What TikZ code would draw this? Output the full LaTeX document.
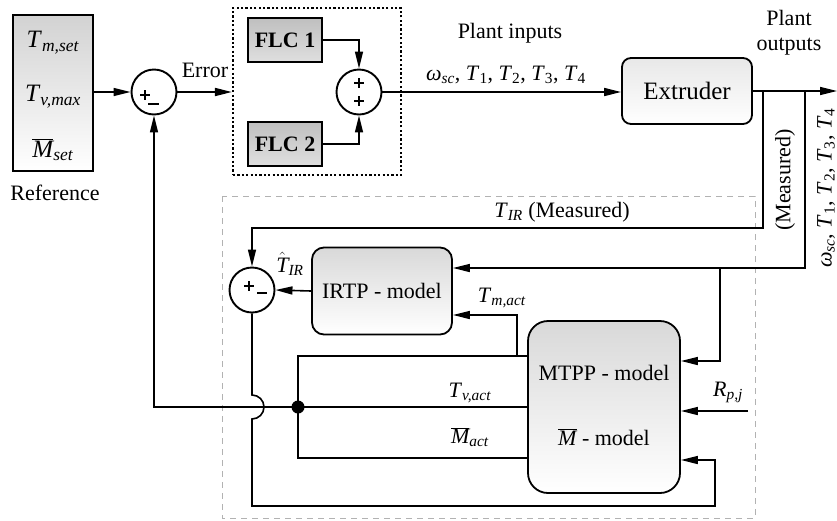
\documentclass[tikz,border=0pt]{standalone}
\usepackage{fontspec}
\setmainfont{Liberation Serif}
\usetikzlibrary{arrows.meta,calc}

% italic symbol with italic subscript
\newcommand\isub[2]{\textit{#1}\textsubscript{\textit{#2}}}
% italic symbol with upright subscript
\newcommand\nsub[2]{\textit{#1}\textsubscript{#2}}
\newcommand\barM{$\overline{\mbox{\itshape M}}$}
\newcommand\plantvars{\isub{ω}{sc}, \nsub{T}{1}, \nsub{T}{2}, \nsub{T}{3}, \nsub{T}{4}}

\begin{document}
\begin{tikzpicture}[x=1pt,y=-1pt,
  every node/.style={font=\fontsize{22}{26}\selectfont},
  wire/.style={line width=1.6pt},
  arr/.style={wire,-{Triangle[length=17pt,width=8pt]}},
  sumnode/.style={circle,draw,line width=1.9pt,minimum size=45pt,inner sep=0pt,fill=white},
  flcbox/.style={draw,line width=1.8pt,top color=gray!50,bottom color=gray!25,
    minimum width=74pt,minimum height=44pt,inner sep=0pt,font=\fontsize{22}{26}\selectfont\bfseries},
  modelbox/.style={draw,line width=1.8pt,rounded corners=12pt,top color=gray!30,bottom color=white,inner sep=0pt},
  sign/.style={line width=1.2pt}
]
\useasboundingbox (0,0) rectangle (837,520);

% reference values
\node[draw,line width=2.6pt,top color=gray!35,bottom color=white,
  minimum width=80pt,minimum height=156pt,inner sep=0pt] (ref) at (53,93) {};
\node[font=\fontsize{25}{28}\selectfont] (tmset) at (53,43) {\isub{T}{m,set}};
\node[font=\fontsize{25}{28}\selectfont] (tvmax) at (53,97) {\isub{T}{v,max}};
\node[font=\fontsize{25}{28}\selectfont] (mset) at (53,150) {\barM\textsubscript{\textit{set}}};
\node (reflbl) at (55,193) {Reference};

% first comparator
\node[sumnode] (sum1) at (154,92) {};
\draw[sign] ($(sum1)+(-14,3)$) -- ($(sum1)+(-4,3)$);
\draw[sign] ($(sum1)+(-9,-2)$) -- ($(sum1)+(-9,8)$);
\draw[sign] ($(sum1)+(-6,12)$) -- ($(sum1)+(5,12)$);

% fuzzy controllers
\node[draw,line width=2.2pt,dash pattern=on 2.2pt off 2.2pt,
  minimum width=168pt,minimum height=167pt,inner sep=0pt] (ctrl) at (317,91.5) {};
\node[flcbox] (flc1) at (285,40) {FLC 1};
\node[flcbox] (flc2) at (285,144) {FLC 2};
\node[sumnode] (sum2) at (359,92) {};
\draw[sign] ($(sum2)+(-5,-9)$) -- ($(sum2)+(5,-9)$);
\draw[sign] ($(sum2)+(0,-14)$) -- ($(sum2)+(0,-4)$);
\draw[sign] ($(sum2)+(-5,9)$) -- ($(sum2)+(5,9)$);
\draw[sign] ($(sum2)+(0,4)$) -- ($(sum2)+(0,14)$);

% plant
\node[draw,line width=1.8pt,rounded corners=9pt,top color=gray!18,bottom color=white,
  minimum width=130pt,minimum height=66pt,inner sep=0pt,
  font=\fontsize{25}{28}\selectfont] (ext) at (687,91) {Extruder};

% observer region
\draw[gray!60,line width=0.8pt,dash pattern=on 6pt off 5pt] (222,196) rectangle (755,518);
\node[modelbox,minimum width=140pt,minimum height=87pt] (irtp) at (382,291) {IRTP - model};
\node[sumnode] (sum3) at (252,290) {};
\draw[sign] ($(sum3)+(-8,-4)$) -- ($(sum3)+(2,-4)$);
\draw[sign] ($(sum3)+(-3,-9)$) -- ($(sum3)+(-3,1)$);
\draw[sign] ($(sum3)+(5,3)$) -- ($(sum3)+(15,3)$);
\node[modelbox,rounded corners=20pt,minimum width=152pt,minimum height=172pt] (mtpp) at (604,407) {};
\node (mtpptxt) at (604,373) {MTPP - model};
\node (mbartxt) at (604,437) {\barM{} - model};

% helper points
\coordinate (out) at (837,91);
\coordinate (b1) at (763,91);
\coordinate (b2) at (805,91);
\coordinate (j2) at (720,268);
\coordinate (tirrow) at (0,228);
\coordinate (row2) at (0,268);
\coordinate (row3) at (0,361);
\coordinate (tm) at (517,356);
\coordinate (tmrow) at (0,315);
\coordinate (toprow) at (0,356);
\coordinate (botrow) at (0,458);
\coordinate (bot) at (0,506);
\coordinate (mbin) at (715,460);
\coordinate (rp) at (748,411);
\node[circle,fill,inner sep=0pt,minimum size=13pt] (dot) at (298,407) {};

% forward path
\draw[arr] (ref.east |- sum1) -- (sum1.west);
\draw[arr] (sum1.east) -- (sum1.east -| ctrl.west);
\draw[arr] (flc1.east) -| (sum2.north);
\draw[arr] (flc2.east) -| (sum2.south);
\draw[arr] (sum2.east) -- (sum2.east -| ext.west);
\draw[arr] (ext.east) -- (out);

% measured outputs
\draw[arr] (b1) |- (sum3.north |- tirrow) -- (sum3.north);
\draw[arr] (b2) |- (irtp.east |- row2);
\draw[arr] (j2) |- (mtpp.east |- row3);
\draw[arr] (irtp.west) -- (sum3.east);

% model outputs
\draw[arr] (dot.center) -- (sum1.south |- dot) -- (sum1.south);
\draw[wire] (dot.center) -- (dot -| mtpp.west);
\draw[wire] (dot.center) |- (mtpp.west |- toprow);
\draw[wire] (dot.center) |- (mtpp.west |- botrow);
\draw[arr] (tm) |- (irtp.east |- tmrow);
\draw[arr] (rp) -- (mtpp.east |- rp);

% estimation error back into the model, hopping over the feedback line
\draw[arr] (sum3.south) -- ($(sum3.south |- dot)+(0,-12)$)
  arc[start angle=90,end angle=-90,radius=12pt]
  -- (sum3.south |- bot) -| (mbin) -- (mtpp.east |- mbin);

% labels
\node (errlbl) at (205,70) {Error};
\node (inlbl) at (510,33) {Plant inputs};
\node (invars) at (506,75) {\plantvars};
\node (outlbl1) at (789,18) {Plant};
\node (outlbl2) at (789,47) {outputs};
\node[rotate=90] (measlbl) at (785,180) {(Measured)};
\node[rotate=90] (outvars) at (826,188) {\plantvars};
\node (tirlbl) at (562,212) {\isub{T}{IR} (Measured)};
\node[inner sep=0pt] (thatlbl) at (290,264) {$\hat{\mbox{\itshape T}}$\textsubscript{\textit{IR}}};
\node (tmlbl) at (502,298) {\isub{T}{m,act}};
\node (tvlbl) at (470,393) {\isub{T}{v,act}};
\node (mactlbl) at (470,437) {\barM\textsubscript{\textit{act}}};
\node (rplbl) at (728,392) {\isub{R}{p,j}};
\end{tikzpicture}
\end{document}
